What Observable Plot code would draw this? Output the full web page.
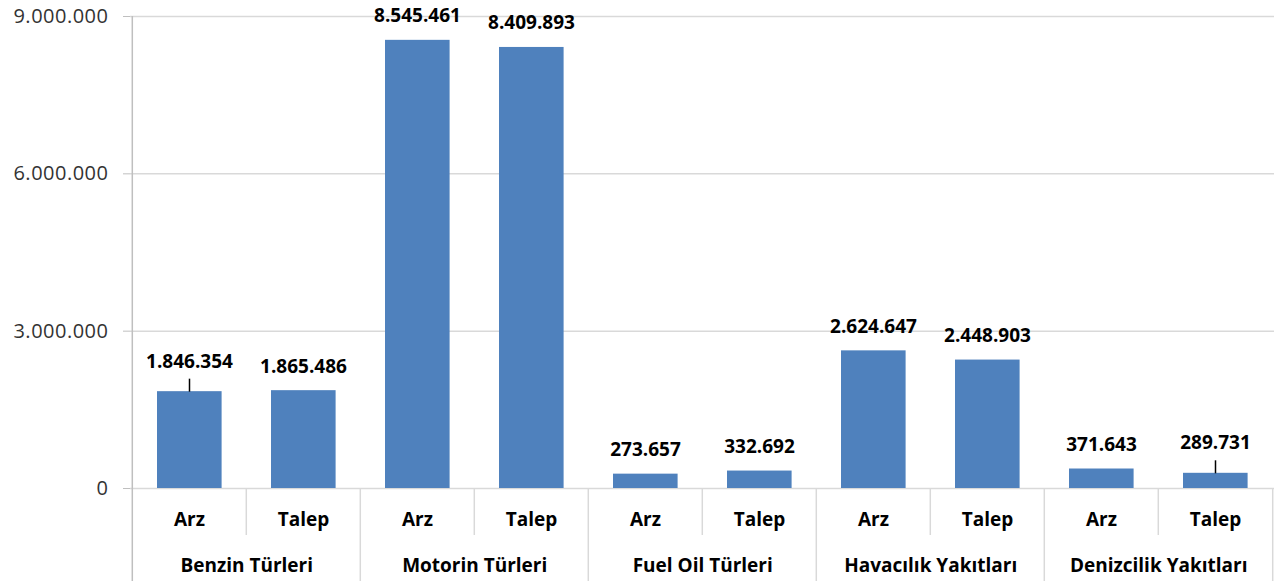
<!DOCTYPE html>
<html><head><meta charset="utf-8">
<script src="https://cdn.jsdelivr.net/npm/d3@7"></script>
<script src="https://cdn.jsdelivr.net/npm/@observablehq/plot@0.6"></script>
<style>body{margin:0;background:#fff} g[aria-label="y-axis tick label"] text{letter-spacing:0.5px}</style>
</head><body><div id="chart"></div>
<script>
const groups = ["Benzin Türleri", "Motorin Türleri", "Fuel Oil Türleri", "Havacılık Yakıtları", "Denizcilik Yakıtları"];
const types = ["Arz", "Talep"];
const arz = [1846354, 8545461, 273657, 2624647, 371643];
const talep = [1865486, 8409893, 332692, 2448903, 289731];
const yTicks = [0, 3000000, 6000000, 9000000];
const leaderKeys = ["Benzin Türleri|Arz", "Denizcilik Yakıtları|Talep"];

const rows = [];
groups.forEach((g, i) => {
  rows.push({group: g, type: types[0], key: g + "|" + types[0], value: arz[i]});
  rows.push({group: g, type: types[1], key: g + "|" + types[1], value: talep[i]});
});
const keys = rows.map(d => d.key);
const fmt = d3.formatLocale({decimal: ",", thousands: ".", grouping: [3], currency: ["", ""]}).format(",");

const W = 1281, H = 581, mL = 130, mR = 7, mT = 16, mB = 93;
const bw = (W - mL - mR) / keys.length;
const font = "'Open Sans', sans-serif";

const chart = Plot.plot({
  width: W, height: H,
  marginLeft: mL, marginRight: mR, marginTop: mT, marginBottom: mB,
  style: {fontFamily: font, background: "white", overflow: "visible"},
  x: {type: "band", domain: keys, padding: 0, axis: null},
  y: {domain: [0, 9000000], axis: null},
  marks: [
    Plot.gridY(yTicks, {stroke: "#d9d9d9", strokeOpacity: 1, strokeWidth: 1.5}),
    Plot.barY(rows, {x: "key", y: "value", fill: "#4f81bd", insetLeft: 25, insetRight: 24.4}),
    Plot.axisY(yTicks, {tickFormat: fmt, tickSize: 7, tickPadding: 15, stroke: "#bfbfbf", fill: "#333", fontSize: 20, label: null}),
    Plot.ruleX([keys[0]], {dx: -bw / 2, stroke: "#bfbfbf", strokeWidth: 1.5, insetBottom: -mB}),
    Plot.ruleX(groups.slice(1).map(g => g + "|Arz"), {dx: -bw / 2, stroke: "#d9d9d9", strokeWidth: 1.5, insetTop: H - mT - mB, insetBottom: -mB}),
    Plot.ruleX([keys[keys.length - 1]], {dx: bw / 2, stroke: "#d9d9d9", strokeWidth: 1.5, insetTop: H - mT - mB, insetBottom: -mB}),
    Plot.ruleX(groups.map(g => g + "|Talep"), {dx: -bw / 2, stroke: "#d9d9d9", strokeWidth: 1.5, insetTop: H - mT - mB, insetBottom: -47}),
    Plot.text(rows.filter(d => !leaderKeys.includes(d.key)), {x: "key", y: "value", text: d => fmt(d.value), lineAnchor: "bottom", dy: -18, fontWeight: "bold", fontSize: 19, fill: "black"}),
    Plot.text(rows.filter(d => leaderKeys.includes(d.key)), {x: "key", y: "value", text: d => fmt(d.value), lineAnchor: "bottom", dy: -24, fontWeight: "bold", fontSize: 19, fill: "black"}),
    Plot.vector(rows.filter(d => leaderKeys.includes(d.key)), {x: "key", y: "value", length: 13, rotate: 0, anchor: "start",
      shape: {draw(ctx, l) { ctx.moveTo(0, 0); ctx.lineTo(0, -l); }}, stroke: "black", strokeWidth: 1.5, strokeLinecap: "butt"}),
    Plot.text(rows, {x: "key", text: "type", frameAnchor: "bottom", lineAnchor: "middle", dy: 31, fontWeight: "bold", fontSize: 19, fill: "black"}),
    Plot.text(groups, {x: g => g + "|Arz", text: d => d, dx: bw / 2, frameAnchor: "bottom", lineAnchor: "middle", dy: 77, fontWeight: "bold", fontSize: 19, fill: "black"})
  ]
});
document.getElementById("chart").appendChild(chart);
</script>
</body></html>
